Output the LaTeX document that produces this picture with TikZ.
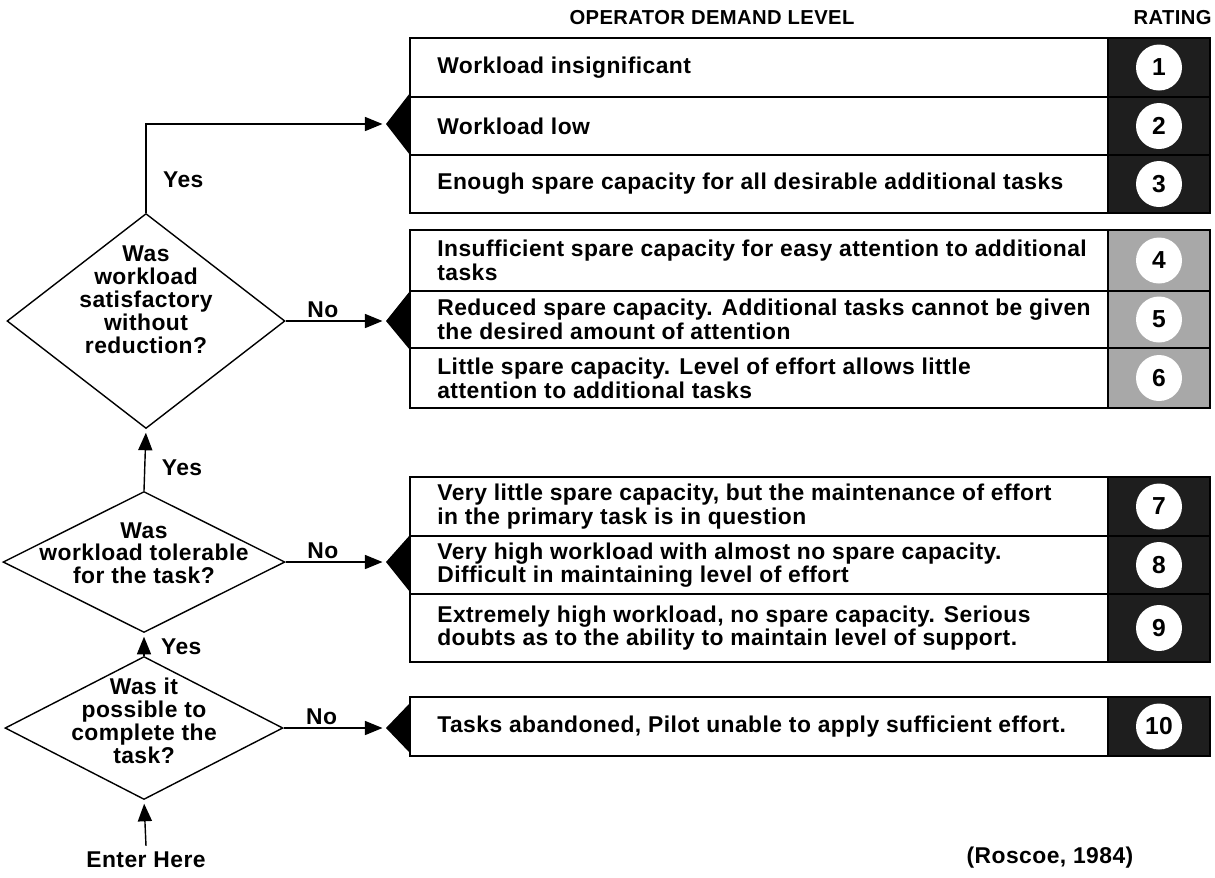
\documentclass[tikz,border=0pt]{standalone}
\usepackage{fontspec}
\setmainfont{Liberation Sans}[LetterSpace=2]
\usepackage{tikz}
\usetikzlibrary{arrows.meta,shapes.geometric,positioning}
\definecolor{ratingdark}{HTML}{1E1E1E}
\definecolor{ratinggray}{HTML}{A8A8A8}

\begin{document}
\begin{tikzpicture}[x=0.02cm,y=-0.02cm,
  font=\bfseries\fontsize{13}{13.5}\selectfont,
  heading/.style={font=\bfseries\fontsize{11.5}{12}\selectfont},
  question/.style={draw,thick,diamond,inner sep=0pt},
  qtext/.style={align=center,inner sep=0pt,font=\bfseries\fontsize{13}{13}\selectfont},
  demand/.style={anchor=west,align=left,inner sep=0pt},
  ratingdot/.style={circle,fill=white,minimum size=0.92cm,inner sep=0pt,font=\bfseries\fontsize{14}{14}\selectfont},
  flow/.style={thick,-{Triangle[length=10pt,width=8pt]},shorten >=2pt}]
  \useasboundingbox (0,0) rectangle (1215,877);
  % headings
  \node[heading] (head) at (712,18) {OPERATOR DEMAND LEVEL};
  \node[heading,anchor=east,inner sep=0pt] (rathead) at (1212,18) {RATING};
  % demand levels with their ratings
  \foreach \ya/\yb/\shade/\num/\txt in {
      38/97/ratingdark/1/{Workload insignificant},
      97/155/ratingdark/2/{Workload low},
      155/213/ratingdark/3/{Enough spare capacity for all desirable additional tasks},
      230/291/ratinggray/4/{Insufficient spare capacity for easy attention to additional\\tasks},
      291/348/ratinggray/5/{Reduced spare capacity. Additional tasks cannot be given\\the desired amount of attention},
      348/408/ratinggray/6/{Little spare capacity.  Level of effort allows little\\attention to additional tasks},
      477/536/ratingdark/7/{Very little spare capacity, but the maintenance of effort\\in the primary task is in question},
      536/594/ratingdark/8/{Very high workload with almost no spare capacity.\\Difficult in maintaining level of effort},
      594/662/ratingdark/9/{Extremely high workload, no spare capacity.  Serious\\doubts as to the ability to maintain level of support.},
      697/756/ratingdark/10/{Tasks abandoned, Pilot unable to apply sufficient effort.}}{
    \fill[\shade] (1108,\ya) rectangle (1210,\yb);
    \draw[thick] (410,\ya) rectangle (1210,\yb);
    \draw[thick] (1108,\ya) -- (1108,\yb);
    \node[demand] (row\num) at (437,{(\ya+\yb)/2}) {\txt};
    \node[ratingdot] (rate\num) at (1159,{(\ya+\yb)/2}) {\num};
  }
  % black wedges in front of each group
  \coordinate (tipA) at (386,124);
  \coordinate (tipB) at (386,321);
  \coordinate (tipC) at (386,562);
  \coordinate (tipD) at (386,728);
  \fill (410,93) -- (tipA) -- (410,155) -- cycle;
  \fill (410,291) -- (tipB) -- (410,350) -- cycle;
  \fill (410,535) -- (tipC) -- (410,592) -- cycle;
  \fill (410,703) -- (tipD) -- (410,753) -- cycle;
  % questions
  \node[question,minimum width=5.56cm,minimum height=4.3cm] (d1) at (146,321) {};
  \node[qtext] (q1) at ([yshift=12pt]d1) {Was\\workload\\satisfactory\\without\\reduction?};
  \node[question,minimum width=5.64cm,minimum height=2.82cm] (d2) at (144,562) {};
  \node[qtext] (q2) at ([yshift=5pt]d2) {Was\\workload tolerable\\for the task?};
  \node[question,minimum width=5.56cm,minimum height=2.86cm] (d3) at (144,728) {};
  \node[qtext] (q3) at ([yshift=4pt]d3) {Was it\\possible to\\complete the\\task?};
  \node (enter) at (146,860) {Enter Here};
  \node (source) at (1050,858) {(Roscoe, 1984)};
  % flow
  \draw[flow] (enter.north) -- (d3.south);
  \draw[flow] (d3.north) -- (d2.south) node[pos=.42,right=6pt] (yes3) {Yes};
  \draw[flow] (d2.north) -- (d1.south) node[pos=.375,right=6pt] (yes2) {Yes};
  \draw[flow] (d1.north) |- (tipA) node[pos=.185,right=6pt] (yes1) {Yes};
  \draw[flow] (d1.east) -- (tipB) node[pos=.37,above=-2pt] (no1) {No};
  \draw[flow] (d2.east) -- (tipC) node[pos=.37,above=-2pt] (no2) {No};
  \draw[flow] (d3.east) -- (tipD) node[pos=.37,above=-2pt] (no3) {No};
\end{tikzpicture}
\end{document}
